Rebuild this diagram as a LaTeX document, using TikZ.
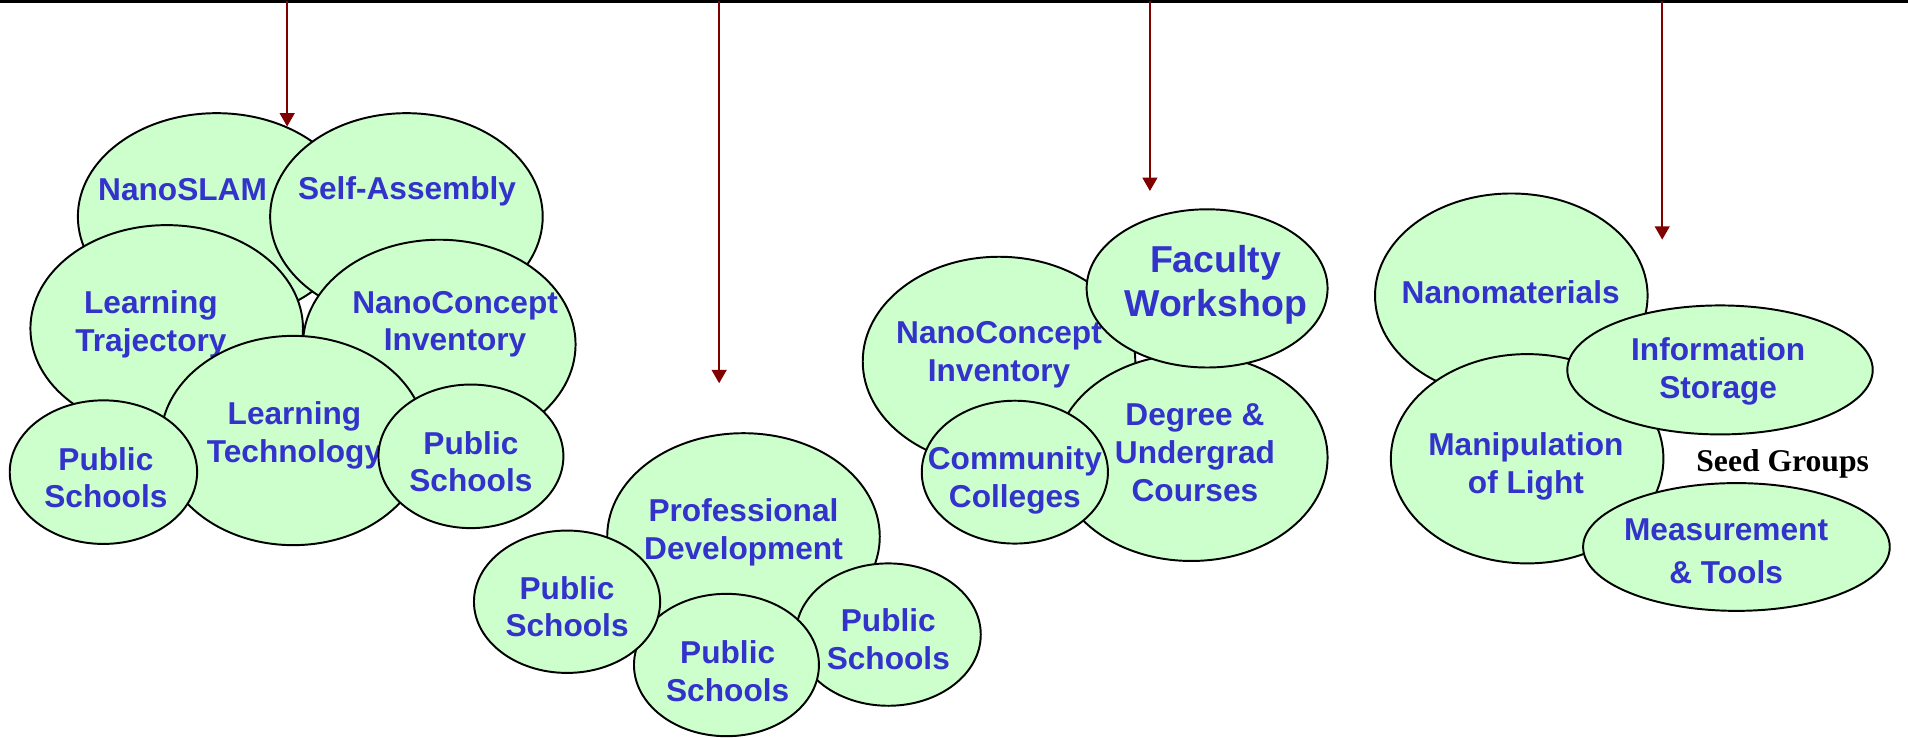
\documentclass[tikz,border=0pt]{standalone}
\usepackage{fontspec}
\setmainfont{Liberation Sans}
\newfontfamily\seedfont{Liberation Serif}
\usetikzlibrary{shapes.geometric,arrows.meta}
\definecolor{blobfill}{HTML}{CCFFCC}
\definecolor{lblblue}{HTML}{3333CC}
\definecolor{arrowred}{HTML}{800000}
\tikzset{
  blob/.style={ellipse, draw=black, fill=blobfill, line width=0.8pt, inner sep=0pt},
  lbl/.style={text=lblblue, font=\fontsize{13}{15.5}\selectfont\bfseries, align=center, inner sep=0pt},
  biglbl/.style={lbl, font=\fontsize{15.4}{18}\selectfont\bfseries},
  widelbl/.style={lbl, font=\fontsize{13}{17.5}\selectfont\bfseries},
  feed/.style={draw=arrowred, line width=1pt, -{Triangle[length=5.5pt,width=6pt]}},
  topline/.style={draw=black, line width=1.2pt}
}
\begin{document}
\begin{tikzpicture}[x=0.5pt,y=-0.5pt]
\useasboundingbox (0,0) rectangle (1568,606);
% top line and feeding arrows
\coordinate (tl) at (0,1.2);
\coordinate (tr) at (1568,1.2);
\draw[topline] (tl) -- (tr);
\coordinate (a1s) at (236,1); \coordinate (a1e) at (236,104);
\coordinate (a2s) at (591,1); \coordinate (a2e) at (591,315);
\coordinate (a3s) at (945,1); \coordinate (a3e) at (945,157);
\coordinate (a4s) at (1366,1); \coordinate (a4e) at (1366,197);
% group 1
\node[blob, minimum width=114pt, minimum height=85pt] (ns) at (178,178) {};
\node[lbl] (ns-t) at (150,156) {NanoSLAM};
\node[blob, minimum width=112pt, minimum height=85pt] (sa) at (334,178) {};
\node[lbl] (sa-t) at (334.5,157.5) {Self-Assembly};
\node[blob, minimum width=112pt, minimum height=85pt] (lt) at (137,270) {};
\node[lbl] (lt-t) at (124,266.5) {Learning\\Trajectory};
\node[blob, minimum width=112pt, minimum height=86pt] (nc1) at (361,283) {};
\node[lbl] (nc1-t) at (374,266.5) {NanoConcept\\Inventory};
\node[blob, minimum width=109pt, minimum height=86pt] (ltech) at (241,362) {};
\node[lbl] (ltech-t) at (242,357.5) {Learning\\Technology};
\node[blob, minimum width=77pt, minimum height=59pt] (ps1) at (85,388) {};
\node[lbl] (ps1-t) at (87,392.5) {Public\\Schools};
\node[blob, minimum width=76pt, minimum height=59pt] (ps2) at (387,375) {};
\node[lbl] (ps2-t) at (387,379.5) {Public\\Schools};
% group 2
\node[blob, minimum width=112pt, minimum height=85pt] (pd) at (611,441) {};
\node[lbl] (pd-t) at (611,437.5) {Professional\\Development};
\node[blob, minimum width=76pt, minimum height=58.5pt] (ps5) at (730,521.5) {};
\node[lbl] (ps5-t) at (730,525.5) {Public\\Schools};
\node[blob, minimum width=76pt, minimum height=58.5pt] (ps4) at (597,546.5) {};
\node[lbl] (ps4-t) at (598,551.5) {Public\\Schools};
\node[blob, minimum width=76.5pt, minimum height=58.5pt] (ps3) at (466,494.5) {};
\node[lbl] (ps3-t) at (466,498.5) {Public\\Schools};
% group 3
\node[blob, minimum width=112pt, minimum height=86pt] (nc2) at (821,297) {};
\node[lbl] (nc2-t) at (821,291.5) {NanoConcept\\Inventory};
\node[blob, minimum width=112pt, minimum height=85pt] (dg) at (979,376) {};
\node[lbl] (dg-t) at (982,372) {Degree \&\\Undergrad\\Courses};
\node[blob, minimum width=99pt, minimum height=65pt] (fw) at (992,237) {};
\node[biglbl] (fw-t) at (999,234) {Faculty\\Workshop};
\node[blob, minimum width=76.5pt, minimum height=58.7pt] (cc) at (834,388) {};
\node[lbl] (cc-t) at (834,394.5) {Community\\Colleges};
% group 4
\node[blob, minimum width=112pt, minimum height=84pt] (nm) at (1242,243) {};
\node[lbl] (nm-t) at (1241.5,240) {Nanomaterials};
\node[blob, minimum width=112pt, minimum height=86pt] (ml) at (1255,377) {};
\node[lbl] (ml-t) at (1254,383.5) {Manipulation\\of Light};
\node[blob, minimum width=125.5pt, minimum height=53pt] (is) at (1413.5,304) {};
\node[lbl] (is-t) at (1412,305) {Information\\Storage};
\node[blob, minimum width=126pt, minimum height=52.5pt] (mt) at (1427,449.5) {};
\node[widelbl] (mt-t) at (1418.5,453) {Measurement\\\& Tools};
\node[font=\seedfont\bfseries\fontsize{13}{15}\selectfont, text=black, inner sep=0pt] (seed) at (1465,381) {Seed Groups};
% arrows
\draw[feed] (a1s) -- (a1e);
\draw[feed] (a2s) -- (a2e);
\draw[feed] (a3s) -- (a3e);
\draw[feed] (a4s) -- (a4e);
\end{tikzpicture}
\end{document}
